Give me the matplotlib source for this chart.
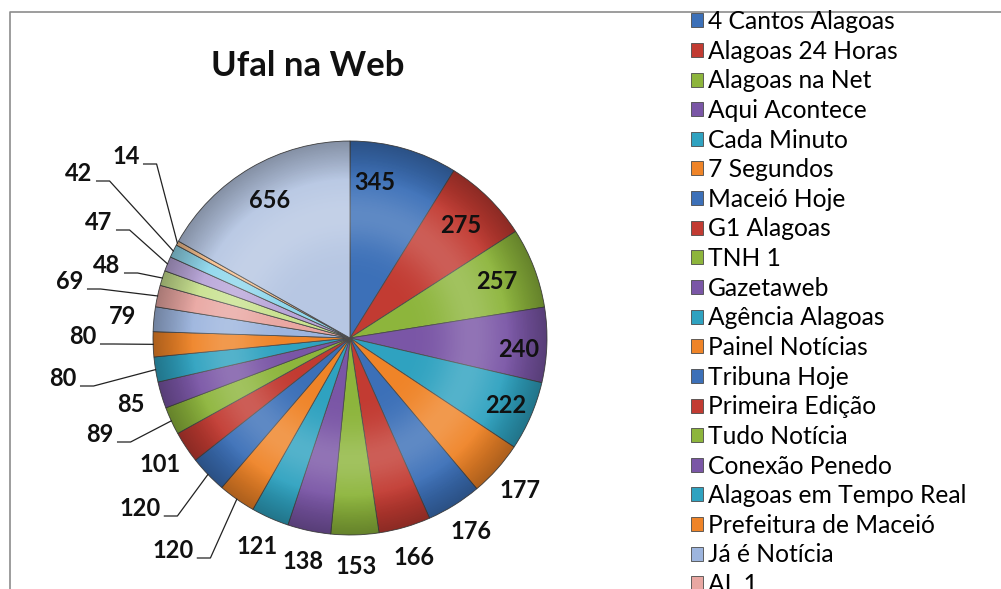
import numpy as np
import matplotlib.pyplot as plt
from matplotlib.lines import Line2D
from matplotlib.patches import Circle

plt.rcParams['font.family'] = ['Lato', 'DejaVu Sans']

# Dados (sentido horário a partir do topo)
valores = [345, 275, 257, 240, 222, 177, 176, 166, 153, 138, 121, 120, 120,
           101, 89, 85, 80, 80, 79, 69, 48, 47, 42, 14, 656]
nomes = ['4 Cantos Alagoas', 'Alagoas 24 Horas', 'Alagoas na Net', 'Aqui Acontece',
         'Cada Minuto', '7 Segundos', 'Maceió Hoje', 'G1 Alagoas', 'TNH 1',
         'Gazetaweb', 'Agência Alagoas', 'Painel Notícias', 'Tribuna Hoje',
         'Primeira Edição', 'Tudo Notícia', 'Conexão Penedo',
         'Alagoas em Tempo Real', 'Prefeitura de Maceió', 'Já é Notícia', 'AL 1']

base = ['#3c70b8', '#c23b32', '#8db53c', '#7a56a6', '#2fa2c0', '#ef8428']
claras = ['#9db5de', '#e9a7a2', '#c9e290', '#b9a6d9', '#8fd7ec', '#f8c18f']
cores = base * 3 + claras + ['#b7c7e3']

# layout: o centro da pizza em pixels e raio
CX, CY, R = 350, 338, 197


def px(x, y):
    return (x - CX) / R, (CY - y) / R


fig = plt.figure(figsize=(10.01, 5.89), dpi=100)
ax = fig.add_axes([0, 0, 1, 1])
wedges, _ = ax.pie(valores, colors=cores, startangle=90, counterclock=False,
                   radius=1, wedgeprops=dict(edgecolor='#4a4a4a', linewidth=0.6))

# leve efeito de relevo: brilho no meio e borda mais escura
g = np.linspace(-1, 1, 400)
gx, gy = np.meshgrid(g, g)
rr = np.hypot(gx, gy)
sombra = np.zeros((400, 400, 4))
sombra[..., 3] = np.clip((rr - 0.80) / 0.20, 0, 1) * 0.28
img = ax.imshow(sombra, extent=(-1, 1, -1, 1), origin='lower', zorder=2,
                interpolation='bilinear')
img.set_clip_path(Circle((0, 0), 1, transform=ax.transData))
brilho = np.ones((400, 400, 4))
brilho[..., 3] = np.exp(-((rr - 0.62) / 0.16) ** 2) * 0.18
img2 = ax.imshow(brilho, extent=(-1, 1, -1, 1), origin='lower', zorder=2,
                 interpolation='bilinear')
img2.set_clip_path(Circle((0, 0), 1, transform=ax.transData))

ax.set_aspect('auto')
ax.set_xlim(px(0, 0)[0], px(1001, 0)[0])
ax.set_ylim(px(0, 589)[1], px(0, 0)[1])
ax.axis('off')

# posições dos rótulos com linha de chamada (centro do texto, em pixels)
chamadas = {11: (173, 551), 12: (140, 509), 14: (100, 435), 16: (63, 379),
            17: (83, 337), 19: (70, 282), 20: (107, 266), 21: (99, 223),
            22: (79, 174), 23: (126, 157)}
# rótulos internos: raio e desvio de ângulo (graus)
internos = {0: (0.80, 7), 1: (0.80, 0), 2: (0.80, 0), 3: (0.86, -2),
            4: (0.86, 0), 24: (0.81, 0)}

for i, w in enumerate(wedges):
    ang = np.deg2rad((w.theta1 + w.theta2) / 2)
    txt = str(valores[i])
    estilo = dict(ha='center', va='center', fontsize=17, fontweight='bold',
                  color='#111111', zorder=4)
    if i in internos:
        r, d = internos[i]
        a = ang + np.deg2rad(d)
        ax.text(r * np.cos(a), r * np.sin(a), txt, **estilo)
    elif i in chamadas:
        cx, cy = chamadas[i]
        ax.text(*px(cx, cy), txt, **estilo)
        x0 = cx + len(txt) * 6.8 + 4
        p0 = px(x0, cy + 7)
        p1 = px(x0 + 13, cy + 7)
        ax.plot([p0[0], p1[0], np.cos(ang)], [p0[1], p1[1], np.sin(ang)],
                color='#222222', lw=0.9, zorder=3)
    else:
        r = 1.16
        ax.text(r * np.cos(ang), r * np.sin(ang), txt, **estilo)

fig.text(308 / 1001, 1 - 66 / 589, 'Ufal na Web', ha='center', va='center',
         fontsize=25, fontweight='bold', color='#111111')

fig.legend(wedges[:20], nomes, loc='upper left',
           bbox_to_anchor=(691 / 1001, 1 - 10 / 589), frameon=False,
           fontsize=17.7, handlelength=0.5, handleheight=0.5, handletextpad=0.2,
           labelspacing=0.27, borderaxespad=0, borderpad=0)

# moldura cinza (topo e esquerda)
fig.add_artist(Line2D([10 / 1001, 10 / 1001, 1], [0, 1 - 12 / 589, 1 - 12 / 589],
                      color='#8c8c8c', lw=1.2))

fig.savefig('out.png', dpi=100)
